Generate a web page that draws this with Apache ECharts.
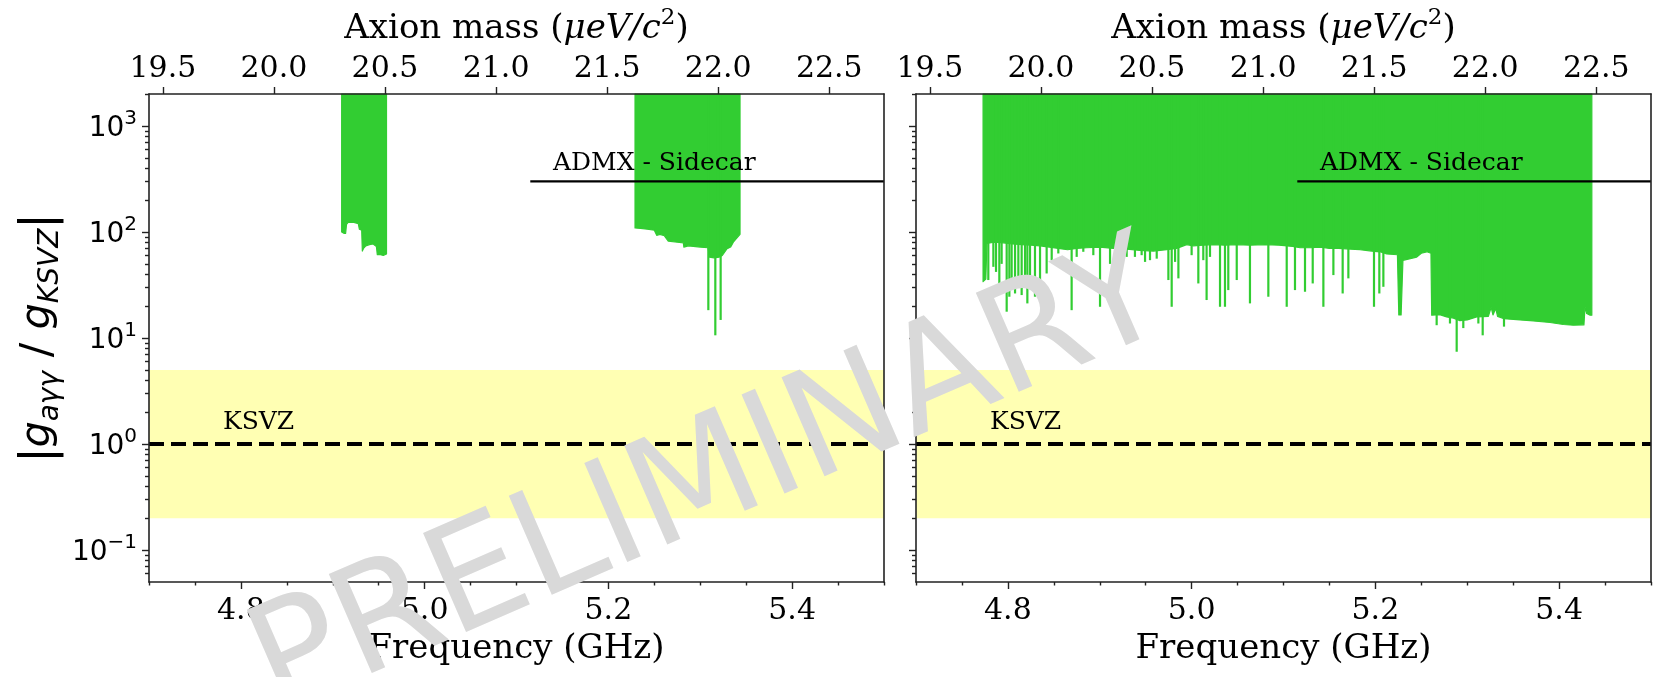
<!DOCTYPE html>
<html>
<head>
<meta charset="utf-8">
<script src="https://cdn.jsdelivr.net/npm/echarts@6/dist/echarts.min.js"></script>
<style>
  html, body { margin: 0; padding: 0; background: #ffffff; }
  #chart { width: 1665px; height: 677px; }
</style>
</head>
<body>
<div id="chart"></div>
<script>
// Shared axis ranges: frequency (GHz) and coupling ratio |g_aγγ / g_KSVZ|
const freqRange = [4.7, 5.5];
const couplingRange = [0.05, 2000];
const ghzToMicroEv = 4.135667; // m_a c^2 = h f

// Tick values
const freqMajorTicks = [4.8, 5.0, 5.2, 5.4];
const freqMinorTicks = [4.7, 4.75, 4.85, 4.9, 4.95, 5.05, 5.1, 5.15, 5.25, 5.3, 5.35, 5.45, 5.5];
const massTicks = [19.5, 20.0, 20.5, 21.0, 21.5, 22.0, 22.5];
const couplingMajorTicks = [0.1, 1, 10, 100, 1000];
const couplingMinorTicks = [0.06, 0.07, 0.08, 0.09, 0.2, 0.3, 0.4, 0.5, 0.6, 0.7, 0.8, 0.9,
  2, 3, 4, 5, 6, 7, 8, 9, 20, 30, 40, 50, 60, 70, 80, 90,
  200, 300, 400, 500, 600, 700, 800, 900, 2000];

// Model band and reference limits
const ksvzCoupling = 1;
const ksvzBand = [0.2, 5];
const sidecarLimit = 300;
const sidecarFreqStart = 5.115;

// Annotations: text and anchor [GHz, coupling]
const annotationTexts = ['KSVZ', 'ADMX - Sidecar'];
const annotationAnchors = [[4.7805, 1.6], [5.1397, 445]];

// Excluded regions, left panel: lower edge of each patch [GHz, coupling]
const leftPanelEdges = [
  [[4.9097, 100], [4.9125, 97], [4.9140, 97], [4.9150, 118], [4.9170, 124], [4.9230, 123],
   [4.9278, 120], [4.9290, 106], [4.9315, 104], [4.9322, 66], [4.9335, 70], [4.9360, 74],
   [4.9400, 76], [4.9440, 77], [4.9475, 73], [4.9485, 61], [4.9520, 61], [4.9550, 60], [4.9585, 62]],
  [[5.2290, 109], [5.2350, 108], [5.2424, 106], [5.2500, 104], [5.2526, 93], [5.2560, 95],
   [5.2610, 92], [5.2652, 82], [5.2750, 80], [5.2816, 79], [5.2822, 72], [5.2870, 74],
   [5.2925, 73], [5.3000, 72], [5.3085, 71], [5.3099, 58], [5.3150, 57], [5.3208, 58],
   [5.3240, 60], [5.3288, 69], [5.3330, 72], [5.3360, 80], [5.3400, 88], [5.3433, 95]]
];
// Narrow dips below the left-panel edges [GHz, coupling]
const leftPanelDips = [[5.3088, 18.3], [5.3164, 10.6], [5.3222, 14.8]];

// Excluded region, right panel: lower edge [GHz, coupling]
const rightPanelEdges = [
  [[4.7730, 34], [4.7760, 36], [4.7772, 78], [4.7850, 80], [4.7950, 79], [4.8050, 77],
   [4.8150, 76], [4.8250, 75], [4.8350, 74], [4.8450, 72], [4.8550, 70], [4.8650, 68],
   [4.8750, 70], [4.8858, 71], [4.9000, 72], [4.9148, 70], [4.9293, 69], [4.9438, 67],
   [4.9583, 66], [4.9729, 68], [4.9838, 70], [4.9946, 76], [5.0018, 74], [5.0127, 75],
   [5.0236, 76], [5.0363, 75], [5.0491, 76], [5.0635, 75], [5.0800, 76], [5.0950, 75],
   [5.1100, 73], [5.1180, 71], [5.1300, 71], [5.1400, 72], [5.1500, 70], [5.1600, 70],
   [5.1724, 69], [5.1833, 68], [5.1960, 66], [5.2050, 65], [5.2123, 62], [5.2240, 61],
   [5.2255, 16.5], [5.2280, 16.5], [5.2300, 54], [5.2380, 56], [5.2450, 58], [5.2500, 63],
   [5.2560, 65], [5.2605, 63], [5.2613, 16.4], [5.2700, 16.6], [5.2776, 15.8], [5.2850, 15.4],
   [5.2920, 14.6], [5.3000, 14.8], [5.3103, 15.8], [5.3230, 16.0], [5.3260, 19.5], [5.3280, 16.5],
   [5.3310, 19.0], [5.3330, 16.0], [5.3400, 15.2], [5.3538, 14.9], [5.3720, 14.5], [5.3901, 14.0],
   [5.4046, 13.4], [5.4155, 13.2], [5.4270, 13.3], [5.4282, 19.7], [5.4300, 17.0], [5.4337, 16.4],
   [5.4356, 16.4]]
];
// Narrow dips below the right-panel edge [GHz, coupling]
const rightPanelDips = [
  [4.7787, 35.2], [4.7842, 46.9], [4.7871, 42], [4.7907, 28.3], [4.7932, 50], [4.7987, 17.7],
  [4.8016, 24.5], [4.8041, 30.4], [4.8078, 26.3], [4.8114, 30.4], [4.8150, 25.4], [4.8187, 32.7],
  [4.8212, 21.2], [4.8241, 35.2], [4.8295, 24.5], [4.8350, 30.4], [4.8422, 40.6], [4.8477, 54.2],
  [4.8549, 62.7], [4.8694, 18.3], [4.8749, 58.2], [4.8821, 65], [4.8930, 60.4], [4.9003, 19.7],
  [4.9112, 50], [4.9293, 58.2], [4.9383, 58.2], [4.9456, 60.4], [4.9493, 52.2], [4.9547, 54.2],
  [4.9620, 56], [4.9747, 35.2], [4.9783, 19.7], [4.9820, 52.2], [4.9856, 36.5], [5.0000, 60.4],
  [5.0073, 32.7], [5.0127, 54.2], [5.0163, 22.8], [5.0200, 58.2], [5.0309, 19.7], [5.0363, 19.7],
  [5.0399, 28.3], [5.0491, 35.2], [5.0635, 21.2], [5.0835, 24.5], [5.1035, 19.7], [5.1125, 28.3],
  [5.1234, 27.3], [5.1318, 32.7], [5.1434, 19.7], [5.1543, 39.2], [5.1644, 26.3], [5.1706, 36.5],
  [5.1985, 19.7], [5.2043, 26.3], [5.2087, 30.4], [5.2667, 13.2], [5.2812, 13.7], [5.2885, 7.4],
  [5.2957, 12.4], [5.3121, 13.7], [5.3168, 10.6], [5.3400, 12.8]
];

const GREEN = '#32cd32';
const BAND = '#ffffb3';
const INK = '#000000';
const FRAME = '#222222';
const SERIF = "'DejaVu Serif', serif";
const SANS = "'DejaVu Sans', sans-serif";

const panels = [
  { left: 149, edges: leftPanelEdges, dips: leftPanelDips, yLabels: true },
  { left: 916, edges: rightPanelEdges, dips: rightPanelDips, yLabels: false }
];

const frameLine = { show: true, lineStyle: { color: FRAME, width: 1.6 } };
const tickLine = { color: FRAME, width: 1.4 };

const grid = [], xAxis = [], yAxis = [], series = [];

panels.forEach((p, g) => {
  grid.push({ left: p.left, top: 94, width: 735, height: 488, containLabel: false });
  const xi = xAxis.length, yi = yAxis.length;

  // bottom frequency axis (labelled ticks)
  xAxis.push({
    gridIndex: g, type: 'value', position: 'bottom', min: freqRange[0], max: freqRange[1], z: 10,
    axisLine: frameLine,
    axisTick: { show: true, inside: false, length: 7, customValues: freqMajorTicks, lineStyle: tickLine },
    axisLabel: { customValues: freqMajorTicks, formatter: v => v.toFixed(1), margin: 14,
      fontFamily: SERIF, fontSize: 30, color: INK },
    splitLine: { show: false },
    name: 'Frequency (GHz)', nameLocation: 'middle', nameGap: 50,
    nameTextStyle: { fontFamily: SERIF, fontSize: 34, color: INK }
  });
  // bottom frequency axis (minor ticks)
  xAxis.push({
    gridIndex: g, type: 'value', position: 'bottom', min: freqRange[0], max: freqRange[1], z: 10,
    axisLine: { show: false },
    axisTick: { show: true, inside: false, length: 3.5, customValues: freqMinorTicks, lineStyle: tickLine },
    axisLabel: { show: false }, splitLine: { show: false }
  });
  // top axion-mass axis
  xAxis.push({
    gridIndex: g, type: 'value', position: 'top',
    min: freqRange[0] * ghzToMicroEv, max: freqRange[1] * ghzToMicroEv, z: 10,
    axisLine: frameLine,
    axisTick: { show: true, inside: false, length: 7, customValues: massTicks, lineStyle: tickLine },
    axisLabel: { customValues: massTicks, formatter: v => v.toFixed(1), margin: 10,
      fontFamily: SERIF, fontSize: 30, color: INK },
    splitLine: { show: false },
    name: '{t|Axion mass (}{i|μeV/c}{s|2}{t|)}', nameLocation: 'middle', nameGap: 48,
    nameTextStyle: {
      rich: {
        t: { fontFamily: SERIF, fontSize: 34, color: INK, verticalAlign: 'bottom' },
        i: { fontFamily: SERIF, fontStyle: 'italic', fontSize: 34, color: INK, verticalAlign: 'bottom' },
        s: { fontFamily: SERIF, fontSize: 23, color: INK, verticalAlign: 'bottom', padding: [0, 0, 16, 0] }
      }
    }
  });

  // left coupling axis (decades)
  yAxis.push({
    gridIndex: g, type: 'log', logBase: 10, position: 'left',
    min: couplingRange[0], max: couplingRange[1], z: 10,
    axisLine: frameLine,
    axisTick: { show: true, inside: false, length: 7, customValues: couplingMajorTicks, lineStyle: tickLine },
    axisLabel: {
      show: p.yLabels, customValues: couplingMajorTicks, margin: 12,
      formatter: v => {
        const e = Math.round(Math.log10(v));
        return '{b|10}{e|' + (e < 0 ? '\u2212' + (-e) : e) + '}';
      },
      rich: {
        b: { fontFamily: SANS, fontSize: 28, color: INK, verticalAlign: 'bottom' },
        e: { fontFamily: SANS, fontSize: 20, color: INK, verticalAlign: 'bottom', padding: [0, 0, 14, 0] }
      }
    },
    splitLine: { show: false },
    name: p.yLabels ? '{bar||}{g|g}{sub|aγγ}{sl| / }{g|g}{sub|KSVZ}{bar||}' : '',
    nameLocation: 'middle', nameRotate: 90, nameGap: 84,
    nameTextStyle: {
      rich: {
        bar: { fontFamily: SANS, fontSize: 46, color: INK, verticalAlign: 'bottom', padding: [0, 0, 2, 0] },
        g: { fontFamily: SANS, fontStyle: 'italic', fontSize: 41, color: INK, verticalAlign: 'bottom', padding: [0, 0, 6, 0] },
        sl: { fontFamily: SANS, fontSize: 43, color: INK, verticalAlign: 'bottom', padding: [0, 0, 5, 0] },
        sub: { fontFamily: SANS, fontStyle: 'italic', fontSize: 28, color: INK, verticalAlign: 'bottom' }
      }
    }
  });
  // left coupling axis (minor ticks)
  yAxis.push({
    gridIndex: g, type: 'log', logBase: 10, position: 'left',
    min: couplingRange[0], max: couplingRange[1], z: 10,
    axisLine: { show: false },
    axisTick: { show: true, inside: false, length: 4, customValues: couplingMinorTicks, lineStyle: tickLine },
    axisLabel: { show: false }, splitLine: { show: false }
  });
  // right frame edge
  yAxis.push({
    gridIndex: g, type: 'log', logBase: 10, position: 'right',
    min: couplingRange[0], max: couplingRange[1], z: 10,
    axisLine: frameLine, axisTick: { show: false }, axisLabel: { show: false }, splitLine: { show: false }
  });

  const on = { xAxisIndex: xi, yAxisIndex: yi };

  // KSVZ model band
  series.push(Object.assign({
    type: 'custom', silent: true, z: 1,
    data: [ksvzBand],
    renderItem: (params, api) => {
      const a = api.coord([freqRange[0], api.value(1)]);
      const b = api.coord([freqRange[1], api.value(0)]);
      return { type: 'rect', shape: { x: a[0], y: a[1], width: b[0] - a[0], height: b[1] - a[1] },
        style: { fill: BAND } };
    }
  }, on));

  // excluded patches: filled from the lower edge up to the top of the axis
  series.push(Object.assign({
    type: 'custom', silent: true, z: 3,
    data: p.edges.map(edge => edge[0]),
    renderItem: (params, api) => {
      const edge = p.edges[params.dataIndex];
      const pts = edge.map(pt => api.coord(pt));
      pts.push(api.coord([edge[edge.length - 1][0], couplingRange[1]]));
      pts.push(api.coord([edge[0][0], couplingRange[1]]));
      return { type: 'polygon', shape: { points: pts },
        style: { fill: GREEN, stroke: GREEN, lineWidth: 1.2, lineJoin: 'round' } };
    }
  }, on));

  // narrow dips reaching below the edge
  series.push(Object.assign({
    type: 'custom', silent: true, z: 3,
    data: p.dips,
    renderItem: (params, api) => {
      const a = api.coord([api.value(0), api.value(1)]);
      const b = api.coord([api.value(0), couplingRange[1]]);
      return { type: 'line', shape: { x1: a[0], y1: a[1], x2: b[0], y2: b[1] },
        style: { stroke: GREEN, lineWidth: 2.2 } };
    }
  }, on));

  // KSVZ coupling
  series.push(Object.assign({
    type: 'line', silent: true, z: 5, symbol: 'none',
    data: [[freqRange[0], ksvzCoupling], [freqRange[1], ksvzCoupling]],
    lineStyle: { color: '#000000', width: 4, type: [15, 7] }
  }, on));

  // ADMX Sidecar limit
  series.push(Object.assign({
    type: 'line', silent: true, z: 6, symbol: 'none',
    data: [[sidecarFreqStart, sidecarLimit], [freqRange[1], sidecarLimit]],
    lineStyle: { color: '#000000', width: 2.4 }
  }, on));

  // annotations
  series.push(Object.assign({
    type: 'custom', silent: true, z: 7,
    data: annotationAnchors,
    renderItem: (params, api) => {
      const pt = api.coord([api.value(0), api.value(1)]);
      return { type: 'text', x: pt[0], y: pt[1],
        style: { text: annotationTexts[params.dataIndex], fill: INK, fontFamily: SERIF,
          fontSize: 25, align: 'left', verticalAlign: 'middle' } };
    }
  }, on));
});

const chart = echarts.init(document.getElementById('chart'), null, { renderer: 'canvas' });
chart.setOption({
  animation: false,
  backgroundColor: '#ffffff',
  grid, xAxis, yAxis, series,
  graphic: [{
    type: 'text', x: 710, y: 484, rotation: 23.5 * Math.PI / 180, z: 100, silent: true,
    style: { text: 'PRELIMINARY', fontFamily: SANS, fontSize: 148, fill: '#d9d9d9',
      align: 'center', verticalAlign: 'middle' }
  }]
});
</script>
</body>
</html>
